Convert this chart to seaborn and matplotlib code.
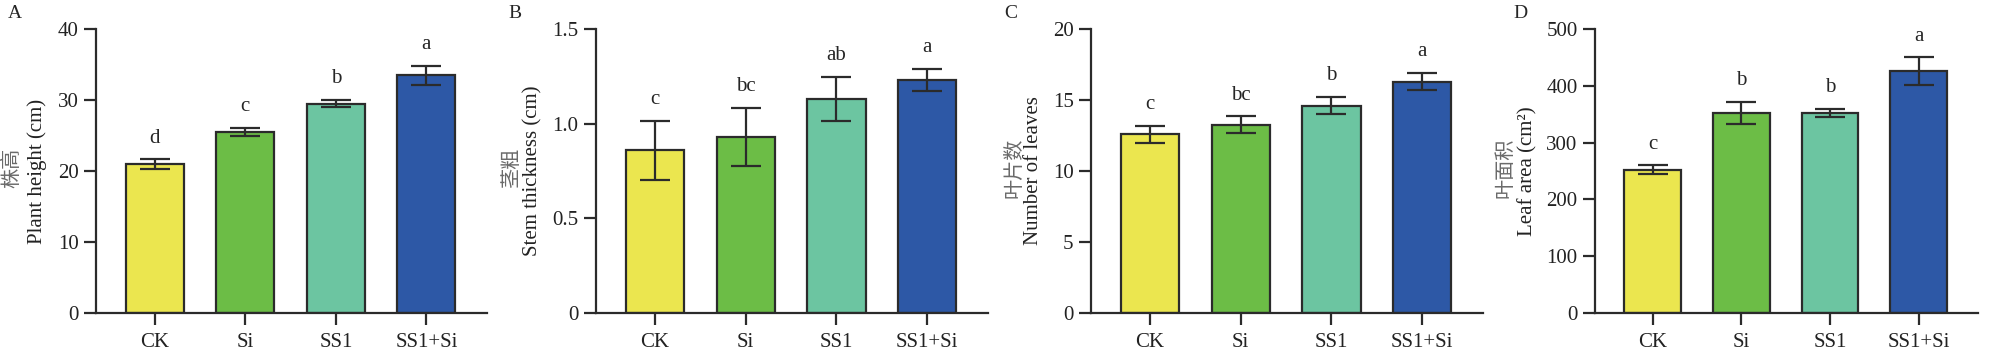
import numpy as np
import matplotlib
matplotlib.use('Agg')
import matplotlib.pyplot as plt
import seaborn as sns

sns.set_theme(style='ticks')
plt.rcParams['font.family'] = ['Liberation Serif', 'Noto Sans CJK SC']
plt.rcParams['axes.unicode_minus'] = False

# 처리 그룹
groups = ['CK', 'Si', 'SS1', 'SS1+Si']
bar_colors = ['#ebe64f', '#6cbd46', '#6cc5a1', '#2d58a6']

# A 株高
height_mean = [21.0, 25.5, 29.5, 33.5]
height_err = [0.65, 0.6, 0.5, 1.35]
height_sig = ['d', 'c', 'b', 'a']

# B 茎粗
stem_mean = [0.86, 0.93, 1.13, 1.23]
stem_err = [0.155, 0.155, 0.118, 0.058]
stem_sig = ['c', 'bc', 'ab', 'a']

# C 叶片数
leaves_mean = [12.6, 13.25, 14.6, 16.3]
leaves_err = [0.6, 0.6, 0.6, 0.63]
leaves_sig = ['c', 'bc', 'b', 'a']

# D 叶面积
area_mean = [252, 352, 352, 426]
area_err = [8, 20, 7, 24]
area_sig = ['c', 'b', 'b', 'a']

panels = [
    ('A', height_mean, height_err, height_sig, '株高', 'Plant height (cm)', 40, 10, '%d'),
    ('B', stem_mean, stem_err, stem_sig, '茎粗', 'Stem thickness (cm)', 1.5, 0.5, None),
    ('C', leaves_mean, leaves_err, leaves_sig, '叶片数', 'Number of leaves', 20, 5, '%d'),
    ('D', area_mean, area_err, area_sig, '叶面积', 'Leaf area (cm²)', 500, 100, '%d'),
]

W, H = 1991, 357
fig = plt.figure(figsize=(W / 100, H / 100), dpi=100)

# 축 위치 (픽셀): left, right / 라벨 중심 x
ax_px = [(96, 487), (596, 988), (1091, 1483), (1595, 1978)]
cn_x = [13, 513, 1015, 1506]
en_x = [37, 533, 1033, 1528]
letter_x = [8, 508, 1004, 1513]
top_px, bot_px = 29, 313
dark = '#2b2b2b'
fs = 15

for (tag, mean, err, sig, cn, en, ymax, step, fmt), (l, r), cx, ex, lx in zip(
        panels, ax_px, cn_x, en_x, letter_x):
    ax = fig.add_axes([l / W, (H - bot_px) / H, (r - l) / W, (bot_px - top_px) / H])
    sns.barplot(x=groups, y=mean, hue=groups, palette=bar_colors, legend=False,
                width=0.64, edgecolor=dark, linewidth=1.6, saturation=1, ax=ax)
    ax.errorbar(range(len(groups)), mean, yerr=err, fmt='none', ecolor=dark,
                elinewidth=1.6, capsize=11, capthick=1.6, zorder=5)
    for i, (m, e, s) in enumerate(zip(mean, err, sig)):
        ax.annotate(s, (i, m + e), xytext=(0, 12), textcoords='offset points',
                    ha='center', va='baseline', fontsize=fs)

    ax.set_xlim(-0.65, 3.67)
    ax.set_ylim(0, ymax)
    ticks = np.arange(0, ymax + step / 2, step)
    ax.set_yticks(ticks)
    if fmt:
        ax.set_yticklabels([fmt % t for t in ticks])
    else:
        ax.set_yticklabels(['0'] + ['%.1f' % t for t in ticks[1:]])
    sns.despine(ax=ax)
    for sp in ['left', 'bottom']:
        ax.spines[sp].set_linewidth(1.6)
        ax.spines[sp].set_color(dark)
    ax.tick_params(axis='both', width=1.6, length=8.5, color=dark, labelsize=fs,
                   labelcolor='#222222')
    ax.tick_params(axis='y', pad=4)
    ax.tick_params(axis='x', pad=6)
    ax.set_xlabel('')
    ax.set_ylabel('')
    ymid = 1 - (top_px + bot_px) / 2 / H
    fig.text(cx / W, ymid + 3 / H, cn, fontsize=fs - 0.5, color='#6a6a6a', rotation=90,
             ha='center', va='center', rotation_mode='anchor')
    fig.text(ex / W, ymid, en, fontsize=fs, color='#222222', rotation=90,
             ha='center', va='center', rotation_mode='anchor')
    fig.text(lx / W, 1 - 13 / H, tag, fontsize=14, ha='left', va='center')

fig.savefig('out.png', dpi=100)
